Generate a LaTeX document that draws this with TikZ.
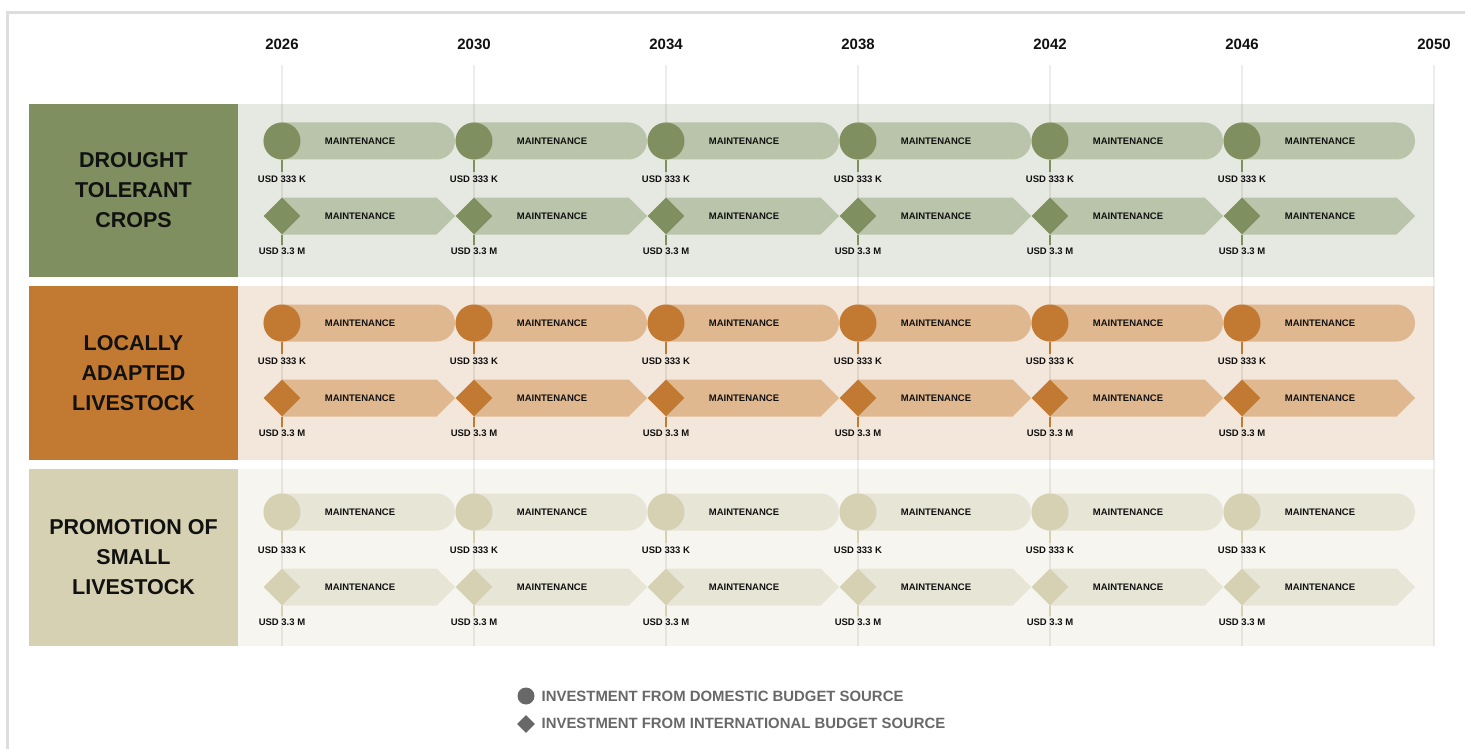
\documentclass[tikz,border=0pt]{standalone}
\usepackage{fontspec}
\setmainfont{Liberation Sans}
\usetikzlibrary{shapes.geometric}

\definecolor{cropdark}{RGB}{127,143,96}
\definecolor{croppill}{RGB}{186,196,170}
\definecolor{cropbg}{RGB}{230,233,225}
\definecolor{stockdark}{RGB}{194,122,51}
\definecolor{stockpill}{RGB}{223,184,144}
\definecolor{stockbg}{RGB}{243,230,218}
\definecolor{smalldark}{RGB}{214,209,178}
\definecolor{smallpill}{RGB}{231,229,214}
\definecolor{smallbg}{RGB}{246,245,240}
\definecolor{legendgray}{RGB}{104,104,104}
\definecolor{framegray}{RGB}{221,221,221}
\definecolor{inkblack}{RGB}{17,17,17}

\tikzset{
  yearlabel/.style={font=\bfseries\fontsize{15}{18}\selectfont, text=inkblack},
  sectionbox/.style={rectangle, minimum width=209pt, inner sep=0pt, align=center, font=\bfseries\fontsize{21.5}{30}\selectfont, text=inkblack},
  pill/.style={rectangle, rounded corners=18.5pt, minimum width=191.5pt, minimum height=37pt, inner sep=0pt},
  dot/.style={circle, minimum size=37pt, inner sep=0pt},
  gem/.style={diamond, aspect=1, minimum width=37pt, minimum height=37pt, inner sep=0pt},
  tasklabel/.style={font=\bfseries\fontsize{9.5}{11}\selectfont, text=inkblack},
  costlabel/.style={font=\bfseries\fontsize{9.5}{11}\selectfont, text=inkblack, inner sep=3pt},
  legendtext/.style={font=\bfseries\fontsize{14.9}{18}\selectfont, text=legendgray, inner sep=0pt},
  stem/.style={line width=2pt},
  gridline/.style={line width=2pt, draw=black, opacity=0.07},
}

\begin{document}
\begin{tikzpicture}[x=1pt, y=-1pt]
        \useasboundingbox (0,0) rectangle (1465,749);

        % Frame
        \draw[framegray, line width=3pt] (7,749) -- (7,13) -- (1465,13);

        % Years
        \foreach \yr in {2026,2030,...,2050} {
            \pgfmathsetmacro\x{282+48*(\yr-2026)}
            \node[yearlabel] (yr\yr) at (\x,44) {\yr};
        }

        % Section boxes and backgrounds
        \foreach \s/\top/\bot/\title in {crop/104/277/{DROUGHT\\TOLERANT\\CROPS}, stock/286/460/{LOCALLY\\ADAPTED\\LIVESTOCK}, small/469/646/{PROMOTION OF\\SMALL\\LIVESTOCK}} {
            \fill[\s bg] (238,\top) rectangle (1434,\bot);
            \node[sectionbox, fill=\s dark, minimum height=\bot-\top] (\s box) at (133.5,{(\top+\bot)/2}) {\title};
        }

        % Grid
        \foreach \yr in {2026,2030,...,2050} {
            \pgfmathsetmacro\x{282+48*(\yr-2026)}
            \draw[gridline] (\x,65) -- (\x,646);
        }

        % Rows
        \foreach \s/\ra/\rb in {crop/141/216, stock/323/398, small/512/587} {
            \foreach \yr in {2026,2030,...,2046} {
                \pgfmathsetmacro\x{282+48*(\yr-2026)}
                % domestic
                \node[pill, fill=\s pill] (\s pill\yr) at (\x+77.25,\ra) {};
                \node[dot, fill=\s dark] (\s dot\yr) at (\x,\ra) {};
                \node[tasklabel] (\s taska\yr) at (\x+78,\ra) {MAINTENANCE};
                \node[costlabel] (\s costa\yr) at (\x,\ra+38) {USD 333 K};
                \draw[stem, \s dark] (\s dot\yr.south) -- (\s costa\yr.north);
                % international
                \fill[\s pill] (\x,\rb-18.5) -- (\x+154.5,\rb-18.5) -- (\x+173,\rb) -- (\x+154.5,\rb+18.5) -- (\x,\rb+18.5) -- cycle;
                \node[gem, fill=\s dark] (\s gem\yr) at (\x,\rb) {};
                \node[tasklabel] (\s taskb\yr) at (\x+78,\rb) {MAINTENANCE};
                \node[costlabel] (\s costb\yr) at (\x,\rb+35.5) {USD 3.3 M};
                \draw[stem, \s dark] (\s gem\yr.south) -- (\s costb\yr.north);
            }
        }

        % Legend
        \node[dot, minimum size=17pt, fill=legendgray] (legdot) at (526,696) {};
        \node[gem, minimum width=18pt, minimum height=18pt, fill=legendgray] (leggem) at (526,724) {};
        \node[legendtext, anchor=west] (legdomestic) at (541.5,696) {INVESTMENT FROM DOMESTIC BUDGET SOURCE};
        \node[legendtext, anchor=west] (leginternational) at (541.5,723) {INVESTMENT FROM INTERNATIONAL BUDGET SOURCE};
    \end{tikzpicture}
\end{document}
